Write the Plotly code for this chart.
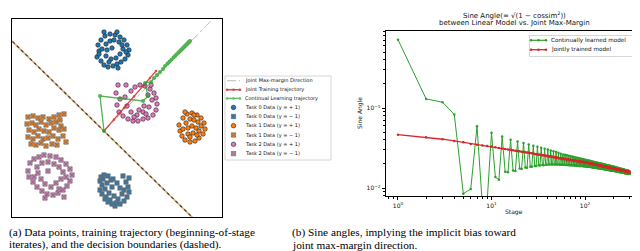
import plotly.graph_objects as go

W, H = 640, 251

# ---------------- (a) data: clusters (x, y) ----------------
task0_pos = [(-0.6,8.6),(-0.5,8.0),(-0.7,7.4),(-0.3,7.0),(0.0,6.6),(0.4,6.4),(0.9,6.5),(1.3,6.7),(1.7,6.9),(2.1,7.2),
             (2.4,7.6),(2.5,8.1),(2.3,8.6),(2.0,9.1),(1.6,9.4),(1.1,9.6),(0.6,9.7),(0.1,9.5),(-0.3,9.1),(0.2,8.7),
             (0.6,9.0),(1.0,9.1),(1.5,8.9),(0.3,8.1),(0.8,8.3),(1.9,8.2),(1.6,7.7),(0.2,7.5),(0.7,7.2),(1.2,7.3),
             (1.8,8.6),(-0.2,8.2),(0.5,6.9),(2.2,7.9),(1.4,6.3),(0.0,9.9),(1.3,9.9),(-0.5,7.7)]
task0_neg = [(-0.3,-4.6),(0.0,-4.4),(0.4,-4.5),(-0.4,-5.0),(-0.2,-5.4),(-0.4,-5.9),(-0.2,-6.3),(0.1,-6.8),(0.4,-7.1),(0.8,-7.3),
             (1.2,-7.2),(1.6,-7.3),(2.0,-7.0),(2.3,-6.6),(2.5,-6.1),(2.4,-5.6),(2.2,-5.1),(2.5,-4.7),(1.9,-4.5),(0.7,-4.9),
             (0.3,-5.2),(0.1,-5.8),(0.5,-6.2),(0.8,-5.6),(1.0,-6.5),(1.4,-6.8),(1.8,-6.3),(1.6,-5.7),(1.3,-5.2),(0.9,-4.8),
             (0.2,-6.6),(2.0,-5.9),(-0.1,-4.8),(1.1,-7.5),(0.6,-6.9)]
task1_pos = [(7.5,0.6),(7.6,0.0),(7.8,-0.5),(8.1,-0.9),(8.6,-1.1),(9.1,-1.0),(9.5,-0.7),(9.9,-0.3),(10.1,0.2),(10.0,0.8),
             (9.7,1.3),(9.3,1.6),(8.8,1.8),(8.3,1.7),(7.9,1.3),(8.2,0.8),(8.6,1.2),(9.0,1.1),(9.4,0.9),(8.4,0.3),
             (8.8,0.5),(9.2,0.3),(8.9,-0.2),(8.4,-0.3),(9.5,0.0),(7.9,0.2),(8.6,-0.6),(9.3,-0.4),(9.7,0.5),(8.1,1.9),(9.0,1.6)]
task1_neg = [(-7.6,1.4),(-7.1,1.5),(-6.6,1.3),(-6.1,1.4),(-5.5,1.2),(-5.0,1.4),(-4.5,1.6),(-4.0,1.7),(-7.7,0.7),(-7.2,0.8),
             (-6.8,0.6),(-6.3,0.9),(-5.8,0.6),(-5.3,0.8),(-4.8,0.9),(-4.3,0.5),(-7.5,0.1),(-7.0,-0.1),(-6.5,0.2),(-6.0,0.0),
             (-5.5,-0.1),(-5.0,0.3),(-4.5,0.1),(-4.0,0.2),(-7.6,-0.6),(-7.1,-0.8),(-6.6,-0.5),(-6.1,-0.8),(-5.6,-0.7),(-5.1,-0.5),
             (-4.6,-0.8),(-4.1,-0.5),(-7.3,-1.3),(-6.8,-1.4),(-6.3,-1.2),(-5.8,-1.5),(-5.2,-1.3),(-4.7,-1.4),(-3.8,-1.1),(-4.4,1.1)]
task2_pos = [(1.4,4.6),(2.2,4.6),(1.2,3.8),(1.6,3.2),(1.3,2.6),(1.5,1.9),(1.9,1.5),(2.4,1.2),(2.9,1.0),(3.4,1.0),
             (3.9,1.2),(4.4,1.3),(4.9,1.6),(5.2,2.1),(5.3,2.7),(5.2,3.3),(5.0,3.8),(4.6,4.2),(4.1,4.5),(3.6,4.6),
             (3.1,4.4),(2.7,4.0),(4.4,3.6),(4.8,3.1),(4.5,2.4),(3.9,1.9),(3.3,1.6),(2.7,1.9),(2.3,2.5),(4.0,2.5),
             (3.5,2.1),(4.2,1.7),(2.1,3.4),(4.7,4.6),(3.0,1.4)]
task2_neg = [(-7.4,-3.2),(-7.0,-2.8),(-6.5,-2.6),(-6.0,-2.4),(-5.4,-2.5),(-4.8,-2.6),(-4.3,-2.9),(-3.8,-3.3),(-3.4,-3.8),(-3.2,-4.4),
             (-3.4,-5.0),(-3.7,-5.5),(-4.1,-5.9),(-4.6,-6.2),(-5.1,-6.4),(-5.7,-6.3),(-6.2,-6.0),(-6.7,-5.6),(-7.1,-5.1),(-7.5,-4.6),
             (-7.6,-4.0),(-6.7,-3.6),(-6.2,-3.2),(-5.6,-3.1),(-5.0,-3.3),(-4.5,-3.6),(-4.1,-4.1),(-4.3,-4.8),(-4.8,-5.2),(-5.3,-5.6),
             (-5.9,-5.3),(-6.3,-4.8),(-6.6,-4.2),(-4.0,-6.6),(-4.5,-5.8),(-5.6,-4.0),(-7.0,-4.6),(-3.8,-4.6),(-5.9,-6.7)]

# trajectories (beginning-of-stage iterates)
joint_traj_x = [0.0, 1.0, 2.0, 3.0, 4.0, 4.6, 5.2]
joint_traj_y = [0.0, 1.15, 2.3, 3.45, 4.6, 5.3, 6.0]
cl_traj_x = [0.0, -0.4, 3.9, 4.4, 4.1, 4.7, 5.0, 5.3, 5.6, 5.9, 6.1, 6.35, 6.55, 6.75, 6.95, 7.1, 7.25, 7.4, 7.5, 7.6,
             7.7, 7.8, 7.9, 7.97, 8.05, 8.12, 8.2, 8.26, 8.32, 8.38, 8.44, 8.5, 8.55, 8.6]
cl_traj_y = [0.0, 3.5, 3.0, 3.5, 4.8, 4.9, 5.3, 5.6, 5.9, 6.2, 6.5, 6.75, 6.95, 7.15, 7.35, 7.5, 7.65, 7.8, 7.9, 8.0,
             8.1, 8.2, 8.3, 8.38, 8.45, 8.52, 8.6, 8.66, 8.72, 8.78, 8.84, 8.9, 8.95, 9.0]
maxmargin_x = [0.0, 12.0]
maxmargin_y = [0.0, 12.36]
boundary_x = [-10.0, 10.0]
boundary_y = [9.78, -9.78]

# ---------------- (b) data ----------------
stages = list(range(1, 301))
continual_sine = [
 0.715,0.130,0.118, 0.083,0.0085,0.0097, 0.059,0.0060,0.0070, 0.049,0.0137,0.0127,
 0.044,0.0160,0.0157, 0.040,0.0165,0.0163, 0.038,0.0175,0.0173, 0.0365,0.0180,0.0179,
 0.035,0.0185,0.0184, 0.0338,0.0189,0.0188, 0.0328,0.0192,0.0191, 0.0318,0.0194,0.0193,
 0.0310,0.0195,0.0195, 0.0302,0.0196,0.0196, 0.0295,0.0196,0.0196, 0.0288,0.0196,0.0196,
 0.0282,0.0196,0.0196, 0.0276,0.0196,0.0195, 0.0268,0.0195,0.0195, 0.0263,0.0195,0.0195,
 0.0260,0.0194,0.0194, 0.0256,0.0194,0.0194, 0.0253,0.0193,0.0193, 0.0250,0.0193,0.0193,
 0.0247,0.0192,0.0192, 0.0244,0.0191,0.0191, 0.0241,0.0191,0.0190, 0.0239,0.0190,0.0190,
 0.0237,0.0189,0.0189, 0.0234,0.0189,0.0189, 0.0232,0.0188,0.0188, 0.0230,0.0188,0.0187,
 0.0228,0.0187,0.0187, 0.0226,0.0187,0.0186, 0.0224,0.0186,0.0186, 0.0222,0.0185,0.0185,
 0.0220,0.0184,0.0184, 0.0219,0.0184,0.0183, 0.0217,0.0183,0.0183, 0.0215,0.0182,0.0182,
 0.0214,0.0181,0.0181, 0.0212,0.0181,0.0180, 0.0211,0.0180,0.0180, 0.0209,0.0179,0.0179,
 0.0208,0.0178,0.0178, 0.0207,0.0178,0.0177, 0.0206,0.0177,0.0177, 0.0204,0.0176,0.0176,
 0.0203,0.0176,0.0175, 0.0202,0.0175,0.0175, 0.0201,0.0174,0.0174, 0.0200,0.0174,0.0173,
 0.0199,0.0173,0.0173, 0.0197,0.0172,0.0172, 0.0196,0.0172,0.0171, 0.0195,0.0171,0.0171,
 0.0194,0.0170,0.0170, 0.0193,0.0170,0.0169, 0.0192,0.0169,0.0169, 0.0191,0.0168,0.0168,
 0.0191,0.0168,0.0167, 0.0190,0.0167,0.0167, 0.0189,0.0167,0.0166, 0.0188,0.0166,0.0166,
 0.0187,0.0166,0.0165, 0.0186,0.0165,0.0165, 0.0186,0.0165,0.0165, 0.0185,0.0164,0.0164,
 0.0184,0.0164,0.0163, 0.0183,0.0163,0.0163, 0.0182,0.0163,0.0162, 0.0181,0.0162,0.0162,
 0.0180,0.0162,0.0161, 0.0179,0.0161,0.0161, 0.0179,0.0161,0.0160, 0.0178,0.0160,0.0160,
 0.0177,0.0160,0.0159, 0.0176,0.0159,0.0159, 0.0175,0.0159,0.0158, 0.0175,0.0158,0.0158,
 0.0174,0.0158,0.0157, 0.0173,0.0157,0.0157, 0.0173,0.0157,0.0156, 0.0172,0.0156,0.0156,
 0.0171,0.0156,0.0155, 0.0171,0.0155,0.0155, 0.0170,0.0155,0.0155, 0.0169,0.0154,0.0154,
 0.0169,0.0154,0.0154, 0.0168,0.0154,0.0153, 0.0167,0.0153,0.0153, 0.0167,0.0153,0.0153,
 0.0166,0.0153,0.0152, 0.0166,0.0152,0.0152, 0.0165,0.0152,0.0152, 0.0165,0.0152,0.0151,
 0.0164,0.0151,0.0151, 0.0163,0.0151,0.0151, 0.0163,0.0151,0.0151, 0.0162,0.0151,0.0151]
joint_sine = [
 0.0464,0.0430,0.0407,0.0387,0.0372,0.0355,0.0347,0.0340,0.0334,0.0329,
 0.0323,0.0317,0.0312,0.0308,0.0303,0.0300,0.0296,0.0293,0.0290,0.0287,
 0.0284,0.0282,0.0280,0.0277,0.0275,0.0273,0.0271,0.0269,0.0267,0.0265,
 0.0263,0.0262,0.0260,0.0259,0.0257,0.0256,0.0254,0.0253,0.0251,0.0250,
 0.0249,0.0248,0.0247,0.0246,0.0245,0.0243,0.0242,0.0241,0.0240,0.0239,
 0.0238,0.0237,0.0236,0.0236,0.0235,0.0234,0.0233,0.0233,0.0232,0.0231,
 0.0230,0.0230,0.0229,0.0228,0.0228,0.0227,0.0226,0.0226,0.0225,0.0224,
 0.0224,0.0223,0.0223,0.0222,0.0221,0.0221,0.0220,0.0220,0.0219,0.0218,
 0.0218,0.0217,0.0217,0.0216,0.0216,0.0215,0.0215,0.0214,0.0214,0.0213,
 0.0213,0.0212,0.0212,0.0211,0.0211,0.0211,0.0210,0.0210,0.0209,0.0209,
 0.0209,0.0208,0.0208,0.0207,0.0207,0.0206,0.0206,0.0205,0.0205,0.0204,
 0.0204,0.0204,0.0203,0.0203,0.0202,0.0202,0.0201,0.0201,0.0200,0.0200,
 0.0200,0.0199,0.0199,0.0199,0.0198,0.0198,0.0197,0.0197,0.0197,0.0196,
 0.0196,0.0196,0.0195,0.0195,0.0194,0.0194,0.0194,0.0193,0.0193,0.0193,
 0.0192,0.0192,0.0191,0.0191,0.0191,0.0190,0.0190,0.0190,0.0189,0.0189,
 0.0189,0.0188,0.0188,0.0188,0.0188,0.0187,0.0187,0.0187,0.0186,0.0186,
 0.0186,0.0186,0.0185,0.0185,0.0185,0.0184,0.0184,0.0184,0.0184,0.0183,
 0.0183,0.0183,0.0182,0.0182,0.0182,0.0182,0.0181,0.0181,0.0181,0.0180,
 0.0180,0.0180,0.0180,0.0179,0.0179,0.0179,0.0178,0.0178,0.0178,0.0178,
 0.0177,0.0177,0.0177,0.0177,0.0176,0.0176,0.0176,0.0176,0.0176,0.0176,
 0.0175,0.0175,0.0175,0.0175,0.0175,0.0174,0.0174,0.0174,0.0174,0.0174,
 0.0173,0.0173,0.0173,0.0173,0.0173,0.0172,0.0172,0.0172,0.0172,0.0172,
 0.0171,0.0171,0.0171,0.0171,0.0171,0.0170,0.0170,0.0170,0.0170,0.0170,
 0.0169,0.0169,0.0169,0.0169,0.0169,0.0168,0.0168,0.0168,0.0168,0.0168,
 0.0167,0.0167,0.0167,0.0167,0.0167,0.0166,0.0166,0.0166,0.0166,0.0166,
 0.0165,0.0165,0.0165,0.0165,0.0165,0.0165,0.0164,0.0164,0.0164,0.0164,
 0.0164,0.0164,0.0163,0.0163,0.0163,0.0163,0.0163,0.0163,0.0162,0.0162,
 0.0162,0.0162,0.0162,0.0162,0.0162,0.0161,0.0161,0.0161,0.0161,0.0161,
 0.0161,0.0160,0.0160,0.0160,0.0160,0.0160,0.0160,0.0159,0.0159,0.0159,
 0.0159,0.0159,0.0159,0.0159,0.0158,0.0158,0.0158,0.0158,0.0158,0.0158]

x_tickvals = [1, 10, 100]
x_ticktext = ["10<sup>0</sup>", "10<sup>1</sup>", "10<sup>2</sup>"]
x_minor = [0.8, 0.9, 2, 3, 4, 5, 6, 7, 8, 9, 20, 30, 40, 50, 60, 70, 80, 90, 200, 300, 400]
y_tickvals = [0.01, 0.1]
y_ticktext = ["10<sup>\u22122</sup>", "10<sup>\u22121</sup>"]
y_minor = [0.008, 0.009, 0.02, 0.03, 0.04, 0.05, 0.06, 0.07, 0.08, 0.09, 0.2, 0.3, 0.4, 0.5, 0.6, 0.7, 0.8, 0.9]

BLUE, ORANGE, PINK = "#1f77b4", "#ff7f0e", "#e377c2"
GREEN, RED, GRAY = "#2ca02c", "#d62728", "#bbbbbb"
FONT = "DejaVu Sans"


def px(x):
    return x / W


def py(y):
    return 1 - y / H


fig = go.Figure()

# ---- panel (a) ----
fig.add_trace(go.Scatter(x=boundary_x, y=boundary_y, mode="lines",
                         line=dict(color="#cfae7e", width=1.6), xaxis="x", yaxis="y", showlegend=False))
fig.add_trace(go.Scatter(x=boundary_x, y=boundary_y, mode="lines",
                         line=dict(color="#4e3b22", width=1.2, dash="3px,3px"), xaxis="x", yaxis="y", showlegend=False))
fig.add_trace(go.Scatter(x=maxmargin_x, y=maxmargin_y, mode="lines",
                         line=dict(color=GRAY, width=1, dash="dashdot"), xaxis="x", yaxis="y", showlegend=False))


def marker_style(color, square):
    if square:
        return dict(symbol="square-x", size=4.3, color=color, line=dict(color="#707070", width=0.7))
    return dict(symbol="circle", size=4.5, color=color, line=dict(color="#222222", width=0.6))


def add_cluster(pts, color, square):
    xs = [p[0] for p in pts]
    ys = [p[1] for p in pts]
    fig.add_trace(go.Scatter(x=xs, y=ys, mode="markers", marker=marker_style(color, square),
                             xaxis="x", yaxis="y", showlegend=False))


add_cluster(task0_pos, BLUE, False)
add_cluster(task0_neg, BLUE, True)
add_cluster(task1_pos, ORANGE, False)
add_cluster(task1_neg, ORANGE, True)
add_cluster(task2_pos, PINK, False)
add_cluster(task2_neg, PINK, True)

fig.add_trace(go.Scatter(x=joint_traj_x, y=joint_traj_y, mode="lines+markers",
                         line=dict(color=RED, width=1.2), marker=dict(size=2.5, color=RED),
                         xaxis="x", yaxis="y", showlegend=False, opacity=0.85))
fig.add_trace(go.Scatter(x=cl_traj_x, y=cl_traj_y, mode="lines+markers",
                         line=dict(color=GREEN, width=1.3), marker=dict(size=4, color=GREEN),
                         xaxis="x", yaxis="y", showlegend=False, opacity=0.8))

# ---- panel (b) ----
fig.add_trace(go.Scatter(x=stages, y=continual_sine, mode="lines+markers",
                         line=dict(color=GREEN, width=1), marker=dict(size=2.5, color=GREEN),
                         xaxis="x2", yaxis="y2", showlegend=False))
fig.add_trace(go.Scatter(x=stages, y=joint_sine, mode="lines+markers",
                         line=dict(color=RED, width=1.3), marker=dict(size=2.5, color=RED),
                         xaxis="x2", yaxis="y2", showlegend=False))

# ---- manual legends on pixel overlay axis ----
def ov(x, y, **kw):
    fig.add_trace(go.Scatter(x=x, y=y, xaxis="x3", yaxis="y3", showlegend=False, hoverinfo="skip", **kw))


shapes = [
    dict(type="rect", xref="paper", yref="paper", x0=px(217), x1=px(323), y0=py(152), y1=py(68),
         line=dict(color="#cccccc", width=0.8), fillcolor="white", layer="below"),
    dict(type="rect", xref="paper", yref="paper", x0=px(521.5), x1=px(632), y0=py(48.5), y1=py(27.5),
         line=dict(color="#cccccc", width=0.8), fillcolor="white", layer="below"),
]

left_rows = [72.7, 81.7, 90.4, 99.4, 108.5, 117.7, 127.0, 136.3, 145.6]
left_labels = ["Joint Max-margin Direction", "Joint Training trajectory", "Continual Learning trajectory",
               "Task 0 Data (y = + 1)", "Task 0 Data (y = \u2212 1)", "Task 1 Data (y = + 1)",
               "Task 1 Data (y = \u2212 1)", "Task 2 Data (y = + 1)", "Task 2 Data (y = \u2212 1)"]
ov([219, 232], [left_rows[0]] * 2, mode="lines", line=dict(color=GRAY, width=1, dash="dashdot"))
ov([219, 225.5, 232], [left_rows[1]] * 3, mode="lines+markers", line=dict(color=RED, width=1.5),
   marker=dict(size=2.5, color=RED), opacity=0.85)
ov([219, 225.5, 232], [left_rows[2]] * 3, mode="lines+markers", line=dict(color=GREEN, width=1.5),
   marker=dict(size=2.5, color=GREEN), opacity=0.7)
leg_marks = [(BLUE, False), (BLUE, True), (ORANGE, False), (ORANGE, True), (PINK, False), (PINK, True)]
for i, (c, sq) in enumerate(leg_marks):
    ov([225.5], [left_rows[3 + i]], mode="markers", marker=marker_style(c, sq))

right_rows = [32.3, 41.7]
right_labels = ["Continually learned model", "Jointly trained model"]
ov([523, 530.5, 538], [right_rows[0]] * 3, mode="lines+markers", line=dict(color=GREEN, width=1.2),
   marker=dict(size=2.5, color=GREEN))
ov([523, 530.5, 538], [right_rows[1]] * 3, mode="lines+markers", line=dict(color=RED, width=1.3),
   marker=dict(size=2.5, color=RED))

annotations = []
for y, t in zip(left_rows, left_labels):
    annotations.append(dict(x=px(235), y=py(y), xref="paper", yref="paper", text=t, showarrow=False,
                            xanchor="left", yanchor="middle", font=dict(family=FONT, size=5, color="#111")))
for y, t in zip(right_rows, right_labels):
    annotations.append(dict(x=px(541), y=py(y), xref="paper", yref="paper", text=t, showarrow=False,
                            xanchor="left", yanchor="middle", font=dict(family=FONT, size=5.7, color="#111")))

# titles / axis labels for (b)
annotations += [
    dict(x=px(506), y=py(6.7), xref="paper", yref="paper", showarrow=False, xanchor="center", yanchor="middle",
         text="Sine Angle(= \u221A(1 \u2212 cossim<sup>2</sup>))", font=dict(family=FONT, size=7, color="#111")),
    dict(x=px(506), y=py(15.5), xref="paper", yref="paper", showarrow=False, xanchor="center", yanchor="middle",
         text="between Linear Model vs. Joint Max-Margin", font=dict(family=FONT, size=7, color="#111")),
    dict(x=px(352), y=py(105), xref="paper", yref="paper", showarrow=False, xanchor="center", yanchor="middle",
         text="Sine Angle", textangle=-90, font=dict(family=FONT, size=6, color="#111")),
    dict(x=px(506), y=py(204), xref="paper", yref="paper", showarrow=False, xanchor="center", yanchor="middle",
         text="Stage", font=dict(family=FONT, size=6, color="#111")),
]

# captions
CAP = dict(family="Liberation Serif", size=11.3, color="black")
annotations += [
    dict(x=px(-1), y=py(224), xref="paper", yref="paper", showarrow=False, xanchor="left", yanchor="middle",
         text="(a) Data points, training trajectory (beginning-of-stage", font=CAP),
    dict(x=px(-1), y=py(236.7), xref="paper", yref="paper", showarrow=False, xanchor="left", yanchor="middle",
         text="iterates), and the decision boundaries (dashed).", font=CAP),
    dict(x=px(282), y=py(224), xref="paper", yref="paper", showarrow=False, xanchor="left", yanchor="middle",
         text="(b) Sine angles, implying the implicit bias toward", font=CAP),
    dict(x=px(282), y=py(236.7), xref="paper", yref="paper", showarrow=False, xanchor="left", yanchor="middle",
         text="joint max-margin direction.", font=CAP),
]

box_axis = dict(showline=True, mirror=True, linecolor="black", linewidth=0.8, showgrid=False,
                zeroline=False, showticklabels=False, ticks="")
log_axis = dict(type="log", showline=True, mirror=True, linecolor="black", linewidth=0.8, showgrid=False,
                zeroline=False, ticks="outside", ticklen=3.5, tickwidth=0.8, tickcolor="black",
                tickfont=dict(family=FONT, size=6, color="#111"))

fig.update_layout(
    width=W, height=H, margin=dict(l=0, r=0, t=0, b=0),
    paper_bgcolor="white", plot_bgcolor="rgba(0,0,0,0)",
    showlegend=False,
    xaxis=dict(domain=[px(4), px(214)], range=[-9.2, 11.8], **box_axis),
    yaxis=dict(domain=[py(209), py(11)], range=[-8.6, 11.2], **box_axis),
    xaxis2=dict(domain=[px(378), px(635)], range=[-0.128, 2.62], tickvals=x_tickvals, ticktext=x_ticktext,
                minor=dict(tickvals=x_minor, ticks="outside", ticklen=2, tickwidth=0.6, tickcolor="black"),
                anchor="y2", **log_axis),
    yaxis2=dict(domain=[py(188), py(23)], range=[-2.1, -0.0375], tickvals=y_tickvals, ticktext=y_ticktext,
                minor=dict(tickvals=y_minor, ticks="outside", ticklen=2, tickwidth=0.6, tickcolor="black"),
                anchor="x2", **log_axis),
    xaxis3=dict(domain=[0, 1], range=[0, W], visible=False, fixedrange=True, anchor="y3"),
    yaxis3=dict(domain=[0, 1], range=[H, 0], visible=False, fixedrange=True, anchor="x3"),
    shapes=shapes,
    annotations=annotations,
)

fig.write_html("out.html")
